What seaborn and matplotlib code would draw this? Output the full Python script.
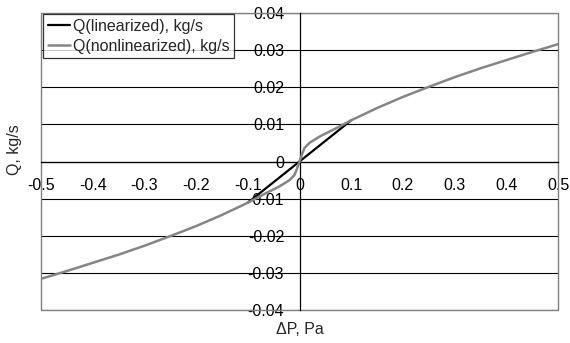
import matplotlib
matplotlib.use("Agg")
import matplotlib.pyplot as plt
from matplotlib.patches import Rectangle
import seaborn as sns
import pandas as pd

# Data
dp_nonlin = [-0.5, -0.45, -0.4, -0.35, -0.3, -0.25, -0.2, -0.15, -0.1, -0.07, -0.04,
             -0.02, -0.01, -0.005, -0.0025, 0.0, 0.0025, 0.005, 0.01, 0.02, 0.04,
             0.07, 0.1, 0.15, 0.2, 0.25, 0.3, 0.35, 0.4, 0.45, 0.5]
q_nonlin = [-0.0316, -0.0295, -0.0273, -0.0251, -0.0227, -0.0201, -0.0174, -0.0144,
            -0.0111, -0.0089, -0.0068, -0.0051, -0.0037, -0.0020, -0.0010, 0.0,
            0.0010, 0.0020, 0.0037, 0.0051, 0.0068, 0.0089, 0.0111, 0.0144, 0.0174,
            0.0201, 0.0227, 0.0251, 0.0273, 0.0295, 0.0316]
dp_lin = [-0.1, 0.0, 0.1]
q_lin = [-0.0111, 0.0, 0.0111]

x_ticks = [-0.5, -0.4, -0.3, -0.2, -0.1, 0, 0.1, 0.2, 0.3, 0.4, 0.5]
x_labels = ["-0.5", "-0.4", "-0.3", "-0.2", "-0.1", "0", "0.1", "0.2", "0.3", "0.4", "0.5"]
y_ticks = [-0.04, -0.03, -0.02, -0.01, 0, 0.01, 0.02, 0.03, 0.04]
y_labels = ["-0.04", "-0.03", "-0.02", "-0.01", "0", "0.01", "0.02", "0.03", "0.04"]

sns.set_style("white")
plt.rcParams["font.family"] = ["Liberation Sans", "DejaVu Sans"]
FS = 11.5
plt.rcParams["font.size"] = FS

W, H = 570, 343
fig = plt.figure(figsize=(W / 100, H / 100), dpi=100)
left, right, top, bottom = 41, 558, 13, 310
ax = fig.add_axes([left / W, 1 - bottom / H, (right - left) / W, (bottom - top) / H])

df_lin = pd.DataFrame({"dP": dp_lin, "Q": q_lin})
df_non = pd.DataFrame({"dP": dp_nonlin, "Q": q_nonlin})

sns.lineplot(data=df_lin, x="dP", y="Q", ax=ax, color="black", lw=1.6,
             label="Q(linearized), kg/s", sort=False, zorder=4)
sns.lineplot(data=df_non, x="dP", y="Q", ax=ax, color="#858585", lw=1.8,
             label="Q(nonlinearized), kg/s", sort=False, zorder=5)

ax.set_xlim(-0.5, 0.5)
ax.set_ylim(-0.04, 0.04)

for yv in y_ticks:
    ax.axhline(yv, color="black", lw=0.8, zorder=1)

ax.set_xticks(x_ticks)
ax.set_xticklabels(x_labels)
ax.set_yticks(y_ticks)
ax.set_yticklabels(y_labels)

for s in ["top", "right"]:
    ax.spines[s].set_visible(False)
ax.spines["left"].set_position(("data", 0))
ax.spines["bottom"].set_position(("data", 0))
for s in ["left", "bottom"]:
    ax.spines[s].set_color("black")
    ax.spines[s].set_linewidth(0.9)
    ax.spines[s].set_zorder(3)

ax.tick_params(axis="both", direction="out", length=4, width=0.9, color="black",
               labelsize=FS, labelcolor="black")
ax.tick_params(axis="x", pad=8)
ax.tick_params(axis="y", pad=7)

ax.add_patch(Rectangle((0, 0), 1, 1, transform=ax.transAxes, fill=False,
                       edgecolor="#808080", lw=1.0, clip_on=False, zorder=2))

ax.set_xlabel("")
ax.set_ylabel("")
fig.text(300 / W, 1 - 330 / H, "ΔP, Pa", ha="center", va="center", fontsize=FS)
fig.text(15 / W, 1 - 150 / H, "Q, kg/s", ha="center", va="center", rotation=90,
         fontsize=FS)

leg = ax.legend(loc="upper left", bbox_to_anchor=(2 / 517, 1 - 1 / 297), borderaxespad=0,
                frameon=True, fancybox=False, handlelength=1.4, handletextpad=0.15,
                borderpad=0.3, labelspacing=0.3, fontsize=FS)
leg.get_frame().set_edgecolor("black")
leg.get_frame().set_linewidth(0.9)
leg.set_zorder(10)

fig.savefig("out.png", dpi=100)
